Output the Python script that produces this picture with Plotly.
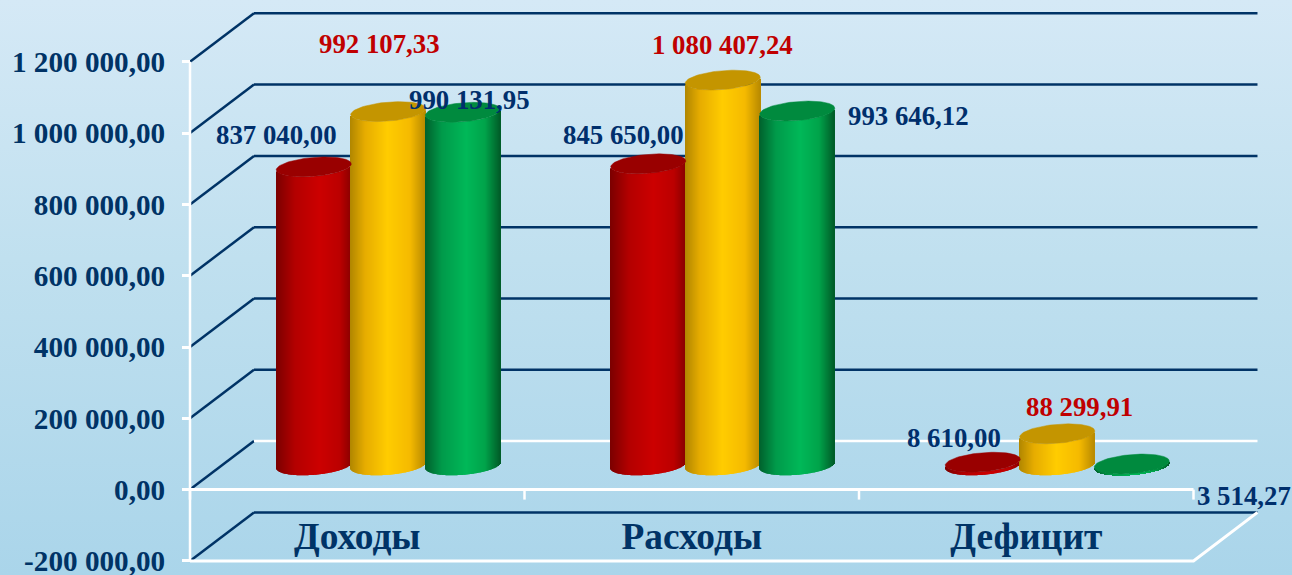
import base64
import numpy as np
import plotly.graph_objects as go

# ---- data ----
categories = ["Доходы", "Расходы", "Дефицит"]
red_values = [837040.00, 845650.00, 8610.00]
yellow_values = [992107.33, 1080407.24, 88299.91]
green_values = [990131.95, 993646.12, 3514.27]
red_labels = ["837 040,00", "845 650,00", "8 610,00"]
yellow_labels = ["992 107,33", "1 080 407,24", "88 299,91"]
green_labels = ["990 131,95", "993 646,12", "3 514,27"]
tick_values = [-200000, 0, 200000, 400000, 600000, 800000, 1000000, 1200000]
tick_labels = ["-200 000,00", "0,00", "200 000,00", "400 000,00", "600 000,00",
               "800 000,00", "1 000 000,00", "1 200 000,00"]

# ---- styling / layout constants ----
W, H = 1292, 575
NAVY = "#003366"
LABEL_NAVY = "#002F6C"
LABEL_RED = "#C00000"
FONT = "Liberation Serif"
PX_PER_UNIT_Y = 71.3 / 200000
ZERO_PX = 489.6
X0_PX, X_STEP = 357.25, 334.5
x_of_px = lambda p: (p - X0_PX) / X_STEP
y_of_px = lambda p: (ZERO_PX - p) / PX_PER_UNIT_Y
UNIT = 1 / PX_PER_UNIT_Y
DEPTH_X = 64 / X_STEP
DEPTH_Y = 48.5 * UNIT
MID_X = 31 / X_STEP
MID_Y = 24.3 * UNIT
CYL_W = 75 / X_STEP
CYL_STEP = 74.5 / X_STEP
B_PX, K_PX = 9.5, 3.0
N = 75


def ramp(stops, s):
    xs = [p[0] for p in stops]
    rgb = [[int(p[1][i:i + 2], 16) for p in stops] for i in (1, 3, 5)]
    return "rgb(%d,%d,%d)" % tuple(round(float(np.interp(s, xs, c))) for c in rgb)


series = [
    (red_values, red_labels, LABEL_NAVY, "#990000",
     [(-1, "#7A0000"), (-0.5, "#B30000"), (0.15, "#CC0000"), (0.7, "#BB0000"), (1, "#8A0000")]),
    (yellow_values, yellow_labels, LABEL_RED, "#C49500",
     [(-1, "#B08600"), (-0.6, "#E6AC00"), (0, "#FFCC00"), (0.6, "#F5BA00"), (1, "#B98A00")]),
    (green_values, green_labels, LABEL_NAVY, "#008A3E",
     [(-1, "#00602C"), (-0.55, "#009A4A"), (0.1, "#00B858"), (0.6, "#00A34A"), (1, "#005C28")]),
]
# label offsets from each cylinder's top centre, px (right, down)
label_offsets = [
    [(-37.5, -32), (-25, -29), (-28.5, -24)],
    [(-9, -67.6), (0, -35), (22, -27)],
    [(6.5, -12), (111, 5), (112.5, 32)],
]

fig = go.Figure()
annotations = []
caps = []
slice_s = (np.arange(N) + 0.5) / N * 2 - 1
for si, (vals, labs, lab_col, cap_col, stops) in enumerate(series):
    for ci, (v, lab) in enumerate(zip(vals, labs)):
        cx = ci + MID_X + (si - 1) * CYL_STEP
        xs = cx + slice_s * CYL_W / 2
        base = MID_Y - (B_PX * np.sqrt(1 - slice_s ** 2) - K_PX * slice_s) * UNIT
        fig.add_trace(go.Bar(
            x=xs, y=[v] * N, base=base, width=CYL_W / N * 1.5,
            marker=dict(color=[ramp(stops, s) for s in slice_s], line=dict(width=0)),
            hoverinfo="skip", showlegend=False))
        t = np.linspace(0, 2 * np.pi, 90)
        caps.append(go.Scatter(
            x=cx + np.cos(t) * CYL_W / 2,
            y=MID_Y + v + (K_PX * np.cos(t) + B_PX * np.sin(t)) * UNIT,
            mode="lines", fill="toself", fillcolor=cap_col,
            line=dict(width=0.5, color=cap_col), hoverinfo="skip", showlegend=False))
        dx, dy = label_offsets[si][ci]
        annotations.append(dict(
            x=cx, y=MID_Y + v, xref="x", yref="y", text=lab, showarrow=False,
            xshift=dx, yshift=-dy, xanchor="center", yanchor="middle",
            font=dict(family=FONT, size=26.8, color=lab_col, weight="bold")))
for c in caps:
    fig.add_trace(c)

# walls and floor
shapes = []
XL, XR = -0.5, 2.5


def line_path(points, color, width=2.5):
    d = "M " + " L ".join(f"{x:.4f} {y:.1f}" for x, y in points)
    shapes.append(dict(type="path", path=d, xref="x", yref="y", layer="below",
                       line=dict(color=color, width=width)))


for v in tick_values:
    line_path([(XL, v), (XL + DEPTH_X, v + DEPTH_Y)], NAVY)
    back = "#FFFFFF" if v == 0 else NAVY
    line_path([(XL + DEPTH_X, v + DEPTH_Y), (XR + DEPTH_X, v + DEPTH_Y)], back)
line_path([(XL, tick_values[-1]), (XL, tick_values[0])], "#FFFFFF", 2.5)
line_path([(XL, 0), (XR, 0)], "#FFFFFF", 3)
line_path([(XL, tick_values[0]), (XR, tick_values[0]),
           (XR + DEPTH_X, tick_values[0] + DEPTH_Y)], "#FFFFFF", 3)
for i in range(4):
    line_path([(XL + i, 0), (XL + i, -10 * UNIT)], "#FFFFFF", 2.5)

svg = (f'<svg xmlns="http://www.w3.org/2000/svg" width="{W}" height="{H}">'
       '<defs><linearGradient id="g" x1="0" y1="0" x2="0" y2="1">'
       '<stop offset="0" stop-color="#D5E9F6"/><stop offset="0.45" stop-color="#C0E0EF"/>'
       '<stop offset="1" stop-color="#AAD5EA"/></linearGradient></defs>'
       f'<rect width="{W}" height="{H}" fill="url(#g)"/></svg>')
bg = "data:image/svg+xml;base64," + base64.b64encode(svg.encode()).decode()

fig.update_layout(
    width=W, height=H, autosize=False, barmode="overlay",
    margin=dict(l=0, r=0, t=0, b=0),
    paper_bgcolor="#C0E0EF", plot_bgcolor="rgba(0,0,0,0)", showlegend=False,
    shapes=shapes, annotations=annotations,
    images=[dict(source=bg, xref="paper", yref="paper", x=0, y=1, sizex=1, sizey=1,
                 xanchor="left", yanchor="top", sizing="stretch", layer="below")],
    xaxis=dict(domain=[0, 1], range=[x_of_px(0), x_of_px(W)], showgrid=False, zeroline=False,
               showline=False, ticks="", tickmode="array", tickvals=[0, 1, 2], ticktext=categories,
               anchor="free", position=0.112, automargin=False, ticklabeloverflow="allow",
               tickfont=dict(family=FONT, size=37.4, color=NAVY, weight="bold")),
    yaxis=dict(domain=[0, 1], range=[y_of_px(H), y_of_px(0)], showgrid=False, zeroline=False,
               showline=False, ticks="outside", ticklen=8,
               tickwidth=2.5, tickcolor="#FFFFFF", tickmode="array", tickvals=tick_values,
               ticktext=tick_labels, anchor="free", position=190 / W, automargin=False,
               ticklabelstandoff=11, ticklabeloverflow="allow",
               tickfont=dict(family=FONT, size=29.2, color=NAVY, weight="bold")),
)
fig.write_html("out.html", config=dict(displayModeBar=False),
               post_script="document.body.style.margin='0';document.documentElement.style.overflow='hidden';")
